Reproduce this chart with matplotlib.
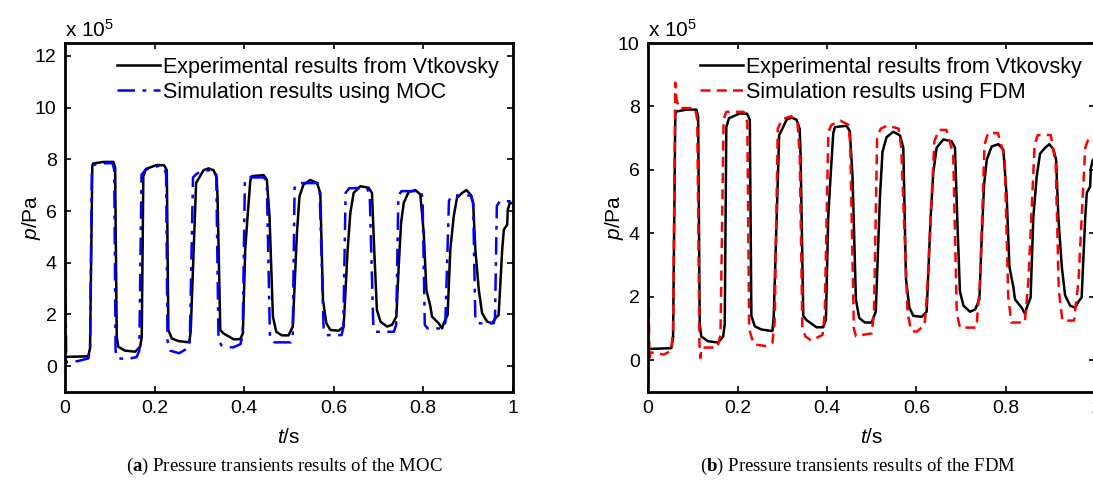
import numpy as np
import matplotlib
matplotlib.use('Agg')
import matplotlib.pyplot as plt

plt.rcParams['font.family'] = ['Liberation Sans', 'DejaVu Sans']
plt.rcParams['font.size'] = 14
plt.rcParams['mathtext.fontset'] = 'custom'
plt.rcParams['mathtext.rm'] = 'Liberation Sans'
plt.rcParams['mathtext.it'] = 'Liberation Sans:italic'
plt.rcParams['mathtext.bf'] = 'Liberation Serif:bold'

# experimental curve (same in both panels), p in 1e5 Pa
exp_t = [0, 0.005, 0.052, 0.056, 0.061, 0.063, 0.086, 0.108, 0.112, 0.1156, 0.119, 0.134, 0.157,
         0.168, 0.1715, 0.175, 0.181, 0.205, 0.2215, 0.2275, 0.231, 0.2387, 0.2535, 0.278, 0.281,
         0.293, 0.302, 0.3095, 0.3207, 0.332, 0.339, 0.341, 0.347, 0.354, 0.3765, 0.3915, 0.3975,
         0.4027, 0.408, 0.414, 0.4176, 0.4437, 0.451, 0.457, 0.4646, 0.472, 0.4847, 0.4996, 0.509,
         0.5183, 0.524, 0.533, 0.548, 0.563, 0.5705, 0.5765, 0.584, 0.593, 0.6115, 0.6227, 0.6316,
         0.6376, 0.645, 0.66, 0.6786, 0.686, 0.691, 0.697, 0.705, 0.7196, 0.731, 0.7405, 0.7457,
         0.751, 0.757, 0.768, 0.783, 0.794, 0.8016, 0.8076, 0.8166, 0.820, 0.835, 0.8427, 0.8463,
         0.855, 0.861, 0.8687, 0.876, 0.8875, 0.897, 0.906, 0.912, 0.917, 0.9247, 0.932, 0.9434,
         0.9545, 0.962, 0.969, 0.977, 0.9806, 0.988, 0.9896, 0.994, 1.0]
exp_p = [0.36, 0.36, 0.38, 0.7, 7.74, 7.84, 7.9, 7.9, 7.69, 1.14, 0.75, 0.6, 0.56,
         0.75, 1.14, 7.35, 7.63, 7.78, 7.77, 7.58, 1.40, 1.07, 0.97, 0.92, 1.4,
         7.09, 7.35, 7.58, 7.65, 7.58, 7.29, 6.45, 1.40, 1.27, 1.04, 1.04, 1.27,
         4.5, 5.8, 7.16, 7.35, 7.39, 7.22, 5.8, 1.92, 1.33, 1.19, 1.19, 1.53,
         5.15, 6.57, 7.03, 7.2, 7.09, 6.7, 2.56, 1.66, 1.40, 1.37, 1.53, 4.5,
         5.93, 6.7, 6.96, 6.9, 6.7, 4.5, 2.17, 1.72, 1.53, 1.6, 1.92, 3.86,
         5.54, 6.32, 6.74, 6.81, 6.64, 5.15, 2.95, 2.3, 1.92, 1.66, 1.46, 1.66,
         1.98, 4.5, 5.8, 6.51, 6.7, 6.81, 6.64, 6.32, 4.5, 2.95, 2.05, 1.72,
         1.66, 1.85, 1.98, 4.5, 5.28, 5.47, 6.06, 6.32, 6.3]

moc_t = [0, 0.003, 0.03, 0.052, 0.056, 0.060, 0.065, 0.09, 0.106, 0.110, 0.113, 0.117, 0.14, 0.16,
         0.166, 0.171, 0.18, 0.21, 0.222, 0.226, 0.229, 0.235, 0.255, 0.275, 0.279, 0.286, 0.295,
         0.31, 0.33, 0.338, 0.343, 0.35, 0.375, 0.392, 0.397, 0.402, 0.41, 0.445, 0.451, 0.458,
         0.468, 0.505, 0.509, 0.513, 0.52, 0.565, 0.569, 0.578, 0.585, 0.618, 0.622, 0.627, 0.635,
         0.675, 0.681, 0.689, 0.695, 0.735, 0.74, 0.745, 0.752, 0.795, 0.799, 0.804, 0.81, 0.845,
         0.85, 0.858, 0.865, 0.908, 0.912, 0.917, 0.922, 0.958, 0.961, 0.965, 0.972, 1.0]
moc_p = [4.0, 0.15, 0.2, 0.3, 0.6, 7.6, 7.8, 7.85, 7.85, 7.6, 0.6, 0.3, 0.28, 0.35,
         0.6, 7.4, 7.6, 7.75, 7.7, 7.4, 1.0, 0.6, 0.5, 0.7, 1.0, 7.3, 7.45,
         7.55, 7.6, 7.4, 1.0, 0.8, 0.72, 0.85, 1.2, 7.2, 7.3, 7.3, 7.1, 1.1,
         0.92, 0.92, 1.2, 6.9, 7.08, 7.08, 6.8, 1.4, 1.2, 1.2, 1.5, 6.7, 6.88,
         6.9, 6.6, 1.5, 1.33, 1.33, 1.6, 6.6, 6.77, 6.77, 6.5, 1.6, 1.46, 1.46,
         1.7, 6.4, 6.6, 6.6, 6.3, 1.8, 1.66, 1.66, 1.9, 6.2, 6.38, 6.38]

fdm_t = [0, 0.003, 0.006, 0.035, 0.052, 0.056, 0.061, 0.064, 0.069, 0.105, 0.11, 0.115, 0.117,
         0.12, 0.155, 0.162, 0.169, 0.175, 0.214, 0.222, 0.226, 0.232, 0.238, 0.262, 0.278, 0.283,
         0.29, 0.3, 0.32, 0.334, 0.339, 0.345, 0.352, 0.365, 0.39, 0.395, 0.403, 0.41, 0.43, 0.448,
         0.452, 0.46, 0.465, 0.48, 0.5, 0.505, 0.512, 0.52, 0.535, 0.56, 0.566, 0.58, 0.588, 0.6,
         0.618, 0.623, 0.64, 0.65, 0.667, 0.682, 0.69, 0.697, 0.734, 0.742, 0.752, 0.76, 0.782,
         0.797, 0.805, 0.812, 0.842, 0.85, 0.864, 0.871, 0.9, 0.911, 0.918, 0.926, 0.952, 0.962,
         0.977, 0.985, 1.0]
fdm_p = [4.2, 0.07, 0.25, 0.18, 0.3, 1.0, 8.75, 8.2, 7.95, 7.95, 7.6, 0.5, 0.07,
         0.4, 0.4, 0.8, 7.6, 7.83, 7.83, 7.5, 1.0, 0.7, 0.5, 0.45, 0.55, 1.2,
         7.3, 7.6, 7.69, 7.5, 6.5, 1.0, 0.75, 0.62, 0.8, 1.5, 7.2, 7.42, 7.55, 7.42,
         6.8, 1.0, 0.75, 0.8, 0.85, 1.5, 7.0, 7.3, 7.4, 7.3, 6.7, 1.5, 0.93, 0.9,
         1.1, 2.0, 6.9, 7.26, 7.26, 6.5, 1.5, 1.03, 1.03, 2.5, 6.8, 7.16, 7.16,
         6.4, 2.0, 1.19, 1.19, 2.5, 6.8, 7.1, 7.1, 6.2, 2.2, 1.25, 1.25, 2.5,
         6.7, 7.0, 6.9]

panels = [
    ('MOC', moc_t, moc_p, 'blue', (0, (7, 3, 1.5, 3)), (-1, 12.5), range(0, 13, 2), 'a',
     'Pressure transients results of the MOC'),
    ('FDM', fdm_t, fdm_p, 'red', (0, (4, 2.5)), (-1, 10), range(0, 11, 2), 'b',
     'Pressure transients results of the FDM'),
]

fig = plt.figure(figsize=(10.93, 4.82), dpi=100)
lefts = [65 / 1093, 648 / 1093]
cap_x = [284 / 1093, 858 / 1093]
w = 447.5 / 1093

for left, cx, (name, st, sp, col, ls, ylim, yt, tag, cap) in zip(lefts, cap_x, panels):
    ax = fig.add_axes([left, 90 / 482, w, 349 / 482])
    ax.plot(exp_t, exp_p, color='black', lw=1.8, label='Experimental results from Vtkovsky')
    ax.plot(st, sp, color=col, lw=1.8, linestyle=ls, label='Simulation results using ' + name)
    ax.set_xlim(0, 1)
    ax.set_ylim(*ylim)
    ax.set_yticks(list(yt))
    ax.set_xticks([0, 0.2, 0.4, 0.6, 0.8, 1])
    ax.set_xticklabels(['0', '0.2', '0.4', '0.6', '0.8', '1'])
    ax.tick_params(direction='in', top=True, right=True, length=4, width=1.2, labelsize=14, pad=6)
    for s in ax.spines.values():
        s.set_linewidth(2)
    ax.set_xlabel(r'$t$/s', fontsize=15, labelpad=8)
    ax.set_ylabel(r'$p$/Pa', fontsize=15, labelpad=-6)
    ax.text(0, 1.005, r'x 10$^5$', transform=ax.transAxes, fontsize=15, va='bottom')
    ax.legend(loc='upper right', frameon=False, fontsize=15.5, handlelength=2.0,
              handletextpad=0.12, borderaxespad=0.25, labelspacing=0.18)
    fig.text(cx, 16 / 482, r'($\mathbf{' + tag + r'}$) ' + cap,
             ha='center', va='center', fontsize=13.5, family='Liberation Serif')

fig.savefig('out.png', dpi=100)
